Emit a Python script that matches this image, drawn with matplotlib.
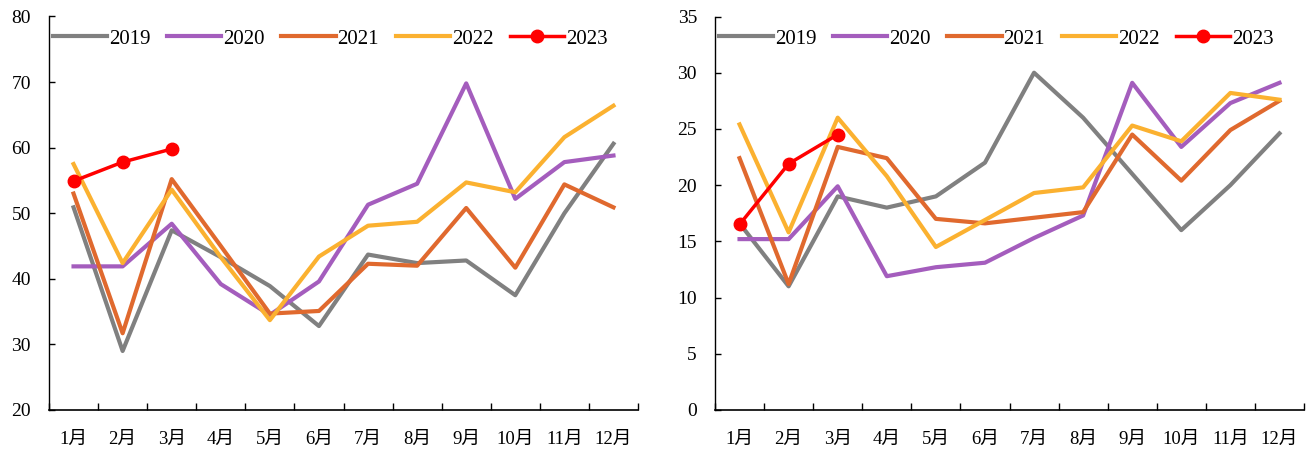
import matplotlib
matplotlib.use("Agg")
import matplotlib.pyplot as plt
import numpy as np

plt.rcParams['font.family'] = ['Liberation Serif', 'Noto Sans CJK SC']

months = ['1月', '2月', '3月', '4月', '5月', '6月', '7月', '8月', '9月', '10月', '11月', '12月']
years = ['2019', '2020', '2021', '2022', '2023']

left_2019 = [50.9, 29.0, 47.4, 43.3, 38.9, 32.8, 43.7, 42.4, 42.8, 37.5, 50.0, 60.6]
left_2020 = [41.9, 41.9, 48.4, 39.2, 34.5, 39.6, 51.3, 54.5, 69.8, 52.2, 57.8, 58.8]
left_2021 = [53.0, 31.7, 55.2, 45.0, 34.7, 35.1, 42.3, 42.0, 50.8, 41.7, 54.4, 50.9]
left_2022 = [57.5, 42.4, 53.6, 43.3, 33.7, 43.4, 48.1, 48.7, 54.7, 53.2, 61.6, 66.4]
left_2023 = [54.9, 57.8, 59.8]

right_2019 = [16.6, 11.0, 19.0, 18.0, 19.0, 22.0, 30.0, 26.0, 21.0, 16.0, 20.0, 24.6]
right_2020 = [15.2, 15.2, 19.9, 11.9, 12.7, 13.1, 15.3, 17.3, 29.1, 23.4, 27.3, 29.1]
right_2021 = [22.4, 11.2, 23.4, 22.4, 17.0, 16.6, 17.1, 17.6, 24.5, 20.4, 24.9, 27.5]
right_2022 = [25.4, 15.8, 26.0, 20.8, 14.5, 16.9, 19.3, 19.8, 25.3, 23.9, 28.2, 27.6]
right_2023 = [16.5, 21.9, 24.5]

colors = ['#808080', '#A45DBD', '#E0692E', '#FBB130', '#FF0000']

W, H = 1312, 453
fig = plt.figure(figsize=(W / 100, H / 100), dpi=100)
ax1 = fig.add_axes([49 / W, 1 - 410 / H, (638 - 49) / W, (410 - 16.5) / H])
ax2 = fig.add_axes([715 / W, 1 - 410 / H, (1304 - 715) / W, (410 - 16.5) / H])

def draw(ax, series, ylim, yticks, ypad):
    x = np.arange(len(months))
    for i, (s, c) in enumerate(zip(series, colors)):
        if i < 4:
            ax.plot(x[:len(s)], s, color=c, lw=3.0, label=years[i], zorder=2 + i)
        else:
            ax.plot(x[:len(s)], s, color=c, lw=2.5, marker='o', ms=9, label=years[i], zorder=10)
    ax.set_xlim(-0.5, 11.5)
    ax.set_ylim(*ylim)
    ax.set_yticks(yticks)
    ax.set_xticks(np.arange(-0.5, 12, 1))
    ax.set_xticklabels([])
    ax.set_xticks(x, minor=True)
    ax.set_xticklabels(months, minor=True, fontsize=13.5)
    ax.tick_params(axis='x', which='major', direction='in', length=5, width=1)
    ax.tick_params(axis='x', which='minor', length=0, pad=15)
    ax.tick_params(axis='y', direction='in', length=4, width=1, labelsize=14, pad=ypad)
    for sp in ['top', 'right']:
        ax.spines[sp].set_visible(False)
    ax.spines['left'].set_linewidth(1)
    ax.spines['bottom'].set_linewidth(1.2)
    ax.legend(loc='center left', bbox_to_anchor=(0.006, 1 - 0.057), ncol=5, frameon=False,
              fontsize=15, handlelength=2.6, handletextpad=0.1, columnspacing=0.8,
              borderaxespad=0, borderpad=0)

draw(ax1, [left_2019, left_2020, left_2021, left_2022, left_2023], (20, 80), np.arange(20, 81, 10), 13)
draw(ax2, [right_2019, right_2020, right_2021, right_2022, right_2023], (0, 35), np.arange(0, 36, 5), 13)

fig.savefig('out.png', dpi=100)
